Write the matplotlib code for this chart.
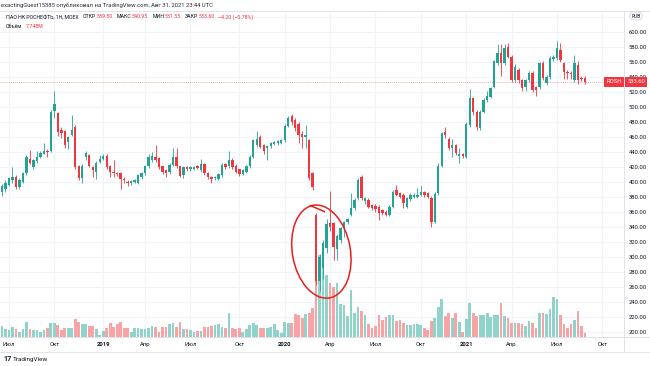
import numpy as np
import pandas as pd
import matplotlib
matplotlib.use('Agg')
import matplotlib.pyplot as plt
from matplotlib.patches import Ellipse
from matplotlib.lines import Line2D
from matplotlib.transforms import IdentityTransform, blended_transform_factory

plt.rcParams['font.family'] = ['Roboto', 'DejaVu Sans']

# weekly bars, ROSN (MOEX)
dates = pd.date_range('2018-06-18', periods=168, freq='W-MON')

opens = [386, 390, 396, 402, 407, 393, 400, 412, 431, 420,
         428, 434, 438, 442, 442, 495, 492, 469, 468, 454,
         463, 474, 421, 405, 434, 436, 420, 414, 427, 431,
         435, 421, 413, 412, 412, 404, 400, 398, 400, 399,
         406, 412, 421, 429, 434, 432, 421, 416, 414, 423,
         434, 421, 409, 420, 417, 418, 421, 416, 424, 412,
         407, 405, 404, 409, 424, 421, 430, 422, 417, 411,
         414, 421, 434, 449, 460, 449, 445, 448, 451, 452,
         452, 456, 475, 488, 483, 478, 464, 460, 456, 412,
         356, 268, 285, 312, 345, 345, 310, 322, 338, 346,
         356, 365, 378, 407, 374, 376, 369, 368, 367, 362.6,
         360, 356, 367, 389, 385, 383, 367, 377, 380, 380,
         383, 386, 385, 378, 347, 385, 422, 467, 458, 445,
         449, 435, 437, 434, 476, 512, 494, 472, 494, 509.5,
         514, 527, 558.5, 572.7, 558.5, 580, 567.4, 536.2, 549.6, 536.2,
         526.4, 536.2, 546, 526.4, 526.4, 558.5, 531.8, 540.7, 563.8, 565.2,
         577, 558.5, 547.4, 546, 536.2, 556.3, 538.5, 539.5]

highs = [397, 402, 407, 420, 409, 405, 414, 436, 443, 431,
         442, 441, 452, 444, 496, 522, 494, 474, 470, 461,
         489, 476, 423, 424, 442, 438, 421, 428, 436, 437,
         437, 423, 430, 414, 414, 406, 402, 403, 404, 411,
         414, 423, 438, 440, 449, 433, 422, 417, 425, 445,
         446, 422, 421, 422, 421, 422, 423, 431, 426, 414,
         408, 408, 412, 425, 426, 441, 432, 424, 418, 418,
         423, 436, 458, 468, 463, 451, 450, 453, 455, 456,
         458, 477, 488, 491, 485, 480, 468, 476, 458, 414,
         358, 304, 322, 350, 388, 347, 330, 340, 348, 352,
         385, 378, 405, 409, 380, 378, 371, 370, 369, 364,
         362, 369, 389, 396, 387, 385, 380, 385, 385, 392,
         395, 388, 387, 381, 386, 425, 467, 474, 460, 458,
         451, 445, 439, 480, 524, 514, 496, 496, 512, 522,
         527, 563, 584, 585, 585, 586, 570, 558, 552, 538,
         538, 548, 548, 528, 560, 561, 543, 568, 570, 589,
         586, 560, 550, 548, 570, 562, 542, 540.95]

lows = [381, 387, 394, 399, 390, 391, 398, 410, 424, 418,
        426, 432, 437, 433, 440, 486, 461, 459, 446, 444,
        461, 418, 402, 398, 430, 420, 406, 404, 425, 429,
        418, 406, 406, 408, 390, 399, 394, 396, 398, 397,
        404, 410, 419, 427, 427, 418, 411, 407, 411, 421,
        419, 406, 405, 415, 415, 416, 417, 414, 410, 404,
        398, 403, 402, 407, 418, 419, 418, 412, 408, 409,
        412, 419, 432, 447, 445, 438, 429, 446, 449, 450,
        451, 454, 473, 476, 468, 452, 446, 446, 403, 389,
        262, 254, 270, 305, 335, 296, 296, 318, 327, 344,
        354, 363, 376, 376, 371, 365, 362, 360, 349, 356,
        354, 354, 365, 381, 378, 365, 365, 375, 378, 379,
        381, 380, 378, 340, 345, 383, 420, 459, 443, 434,
        436, 425, 432, 432, 474, 490, 470, 470, 492, 507,
        512, 525, 556, 541, 556, 565, 534, 534, 532, 522,
        522, 534, 520, 515, 524, 536, 530, 538, 561, 563,
        560, 537, 538, 537, 534, 531, 535, 531.55]

closes = [394, 399, 405, 407, 393, 403, 412, 433, 426, 429,
          434, 439, 442, 440, 494, 504, 467, 466, 449, 460,
          469, 420, 405, 422, 439, 422, 416, 426, 431, 435,
          420, 413, 412, 411, 404, 402, 398, 401, 403, 409,
          412, 421, 433, 435, 429, 420, 414, 412, 423, 433,
          421, 408, 420, 417, 420, 420, 419, 424, 412, 406,
          404, 407, 411, 423, 420, 429, 420, 414, 411, 416,
          421, 434, 456, 457, 447, 441, 448, 452, 454, 455,
          456, 475, 486, 480, 472, 463, 460, 463, 405, 393,
          268, 300, 318, 344, 340, 313, 328, 338, 346, 350,
          365, 376, 403, 378, 378, 367, 365, 363.5, 359, 358,
          356, 367, 387, 383, 380, 371.5, 378, 383, 383, 383,
          386, 383, 380, 347, 384, 422, 465, 463, 445, 450,
          439, 438, 435, 478, 512, 494, 474, 494, 509.5, 515,
          525, 561, 572, 559.4, 578.5, 567.4, 536.2, 554, 536.2, 525,
          536.2, 546, 522.9, 522.9, 558.5, 538.5, 540.7, 565.2, 567.4, 578.5,
          563, 547.4, 545.1, 544.7, 558.5, 536.2, 537.8, 533.6]

# volume, millions of shares
volume_m = [19.8, 13.9, 12.6, 18, 13.9, 9.5, 14.9, 26.5, 14.9, 12.1,
            12.1, 9, 12.1, 16.7, 25.2, 25.2, 21.6, 12.6, 15.7, 15.7,
            16.7, 31.9, 27.5, 23.9, 22.9, 20.3, 20.3, 13.9, 4.1, 10.8,
            16.7, 25.7, 18, 23.9, 27, 15.7, 15.7, 9, 16.7, 16.7,
            14.4, 14.4, 16.7, 20.3, 18.5, 9.5, 18, 18.5, 22.9, 24.7,
            18.5, 27, 13.9, 13.9, 12.1, 9, 10.8, 10.8, 18.5, 18.5,
            19.8, 21.1, 22.9, 18.5, 16.7, 43.7, 16.2, 13.9, 16.2, 9.5,
            14.9, 21.6, 25.7, 21.6, 15.7, 16.7, 16.2, 18.5, 23.9, 13.1,
            7.7, 27, 25.2, 24.7, 40.9, 39.1, 33.7, 40.9, 43.7, 51.7,
            100.8, 147.6, 144, 111.6, 97.2, 90, 97.2, 58.9, 57.6, 37.8,
            84.6, 43.7, 54, 46.8, 39.6, 22.9, 16.7, 19.8, 39.6, 30.1,
            36, 39.6, 39.6, 28.8, 30.1, 24.7, 21.1, 21.1, 22.9, 22.9,
            21.1, 16.7, 12.1, 28.8, 33.7, 54, 67.9, 37.8, 42.7, 34.7,
            42.7, 27.5, 9.5, 31.9, 61.7, 43.7, 37.8, 39.6, 39.6, 43.7,
            36, 39.1, 39.1, 61.7, 37.8, 34.7, 25.7, 24.7, 25.7, 22.9,
            19.8, 28.8, 25.7, 16.7, 43.7, 43.7, 41.9, 49.9, 72, 67.9,
            39.1, 22.9, 16.7, 22.9, 30.1, 46.8, 19.8, 7.748]

assert len(opens) == len(highs) == len(lows) == len(closes) == len(volume_m) == len(dates)

UP, DOWN = '#22a393', '#f2363f'
UP_VOL, DOWN_VOL = '#8fd3cb', '#f8a4a7'
GRID = '#f0f3fa'
BORDER = '#e0e3eb'
TEXT = '#131722'

W, H = 650, 366
PLOT_R, PLOT_T, PLOT_B = 624, 12, 337   # pixel edges of the price pane


def fx(px):
    return px / W


def fy(py):
    return 1 - py / H


fig = plt.figure(figsize=(W / 100, H / 100), dpi=100)
rect = [0, fy(PLOT_B), PLOT_R / W, (PLOT_B - PLOT_T) / H]
axg = fig.add_axes(rect, label='grid')
axv = fig.add_axes(rect, label='volume')
ax = fig.add_axes(rect, label='price')

x = np.arange(len(opens))
o, h, l, c = map(np.array, (opens, highs, lows, closes))
up = c >= o
xlim = (-0.57, 178.2)
ylim = (192.9, 627.1)

# month ticks (first bar of Jan/Apr/Jul/Oct), the axis runs past the data
axis_dates = pd.date_range(dates[0], periods=185, freq='W-MON')
ru_month = {4: 'Апр', 7: 'Июл', 10: 'Окт'}
tick_pos, tick_lab = [], []
for i in range(1, len(axis_dates)):
    d = axis_dates[i]
    if d.month != axis_dates[i - 1].month and d.month in (1, 4, 7, 10) and i < xlim[1]:
        tick_pos.append(i)
        tick_lab.append(str(d.year) if d.month == 1 else ru_month[d.month])

# grid pane
axg.set_xlim(*xlim)
axg.set_ylim(*ylim)
for p in range(200, 621, 20):
    axg.axhline(p, color=GRID, lw=0.8)
for t in tick_pos:
    axg.axvline(t, color=GRID, lw=0.8)
axg.axis('off')

# volume pane
axv.bar(x, volume_m, width=0.78, color=np.where(up, UP_VOL, DOWN_VOL), linewidth=0)
axv.set_xlim(*xlim)
axv.set_ylim(0, (PLOT_B - PLOT_T) * 1.8)
axv.axis('off')

# candles
ax.patch.set_visible(False)
ax.vlines(x, l, h, color=np.where(up, UP, DOWN), lw=0.6)
body = np.maximum(np.abs(c - o), 0.8)
ax.bar(x, body, bottom=np.minimum(o, c), width=0.68, color=np.where(up, UP, DOWN), linewidth=0)
ax.axhline(c[-1], color=DOWN, lw=0.6, ls=(0, (1, 1.5)), alpha=0.6)
ax.set_xlim(*xlim)
ax.set_ylim(*ylim)

ax.yaxis.tick_right()
ax.set_yticks(range(200, 601, 20))
ax.set_yticklabels([f'{p:.2f}' for p in range(200, 601, 20)])
ax.tick_params(axis='y', length=0, pad=3.2, labelsize=4.2, labelcolor=TEXT)
ax.set_xticks(tick_pos)
ax.set_xticklabels(tick_lab)
for lab in ax.get_xticklabels():
    if lab.get_text().isdigit():
        lab.set_fontweight('bold')
ax.tick_params(axis='x', length=0, pad=3.4, labelsize=4.2, labelcolor=TEXT)
for s in ax.spines.values():
    s.set_visible(False)

# last price tags
tr = blended_transform_factory(ax.transAxes, ax.transData)
ax.text(1 + 3.5 / PLOT_R, c[-1], f'{c[-1]:.2f}', transform=tr, ha='left', va='center',
        fontsize=4.2, color='white', clip_on=False, zorder=5,
        bbox=dict(boxstyle='square,pad=0.35', fc=DOWN, ec='none'))
ax.text(1 - 2.5 / PLOT_R, c[-1], 'ROSH', transform=tr, ha='right', va='center',
        fontsize=4.2, color='white', clip_on=False, zorder=5,
        bbox=dict(boxstyle='square,pad=0.35', fc=DOWN, ec='none'))

# frame lines
fig.add_artist(Line2D([fx(PLOT_R), fx(PLOT_R)], [fy(PLOT_T - 1), fy(352)], color=BORDER, lw=0.7))
fig.add_artist(Line2D([0, 1], [fy(PLOT_B), fy(PLOT_B)], color=BORDER, lw=0.7))
fig.add_artist(Line2D([0, 1], [fy(352), fy(352)], color=BORDER, lw=0.7))
fig.add_artist(Line2D([0, 1], [fy(PLOT_T - 1), fy(PLOT_T - 1)], color=BORDER, lw=0.7))

fig.text(fx(636), fy(16), 'RUB', fontsize=3.6, color=TEXT, ha='center', va='center',
         bbox=dict(boxstyle='round,pad=0.3,rounding_size=0.8', fc='white', ec='#c9ccd3', lw=0.5))

# header and legend
fig.text(fx(1), fy(5.5), 'exactingGuest15385 опубликовал на TradingView.com, Авг 31, 2021 23:44 UTC',
         fontsize=4.2, color='#2a2e39', va='center')
chg = c[-1] - c[-2]
legend = [('ПАО НК РОСНЕФТЬ, 1Н, MOEX', TEXT, 4.5),
          ('ОТКР', TEXT, 0.6), (f'{o[-1]:.2f}', DOWN, 4),
          ('МАКС', TEXT, 0.6), (f'{h[-1]:.2f}', DOWN, 4),
          ('МИН', TEXT, 0.6), (f'{l[-1]:.2f}', DOWN, 4),
          ('ЗАКР', TEXT, 0.6), (f'{c[-1]:.2f}', DOWN, 3),
          (f'{chg:+.2f} ({chg / c[-2] * 100:+.2f}%)'.replace('-', '−'), DOWN, 0)]
renderer = fig.canvas.get_renderer()
xpos = 5.5
for s, col, gap in legend:
    t = fig.text(fx(xpos), fy(17), s, fontsize=3.8, color=col, va='center')
    xpos = t.get_window_extent(renderer).x1 + gap
t = fig.text(fx(5.5), fy(27), 'Объём', fontsize=3.8, color=TEXT, va='center')
fig.text(fx(t.get_window_extent(renderer).x1 + 4), fy(27), f'{volume_m[-1]:.3f}M',
         fontsize=3.8, color=DOWN, va='center')

# hand-drawn circle round the March 2020 crash
cx, cy = ax.transData.transform((91.5, 307))
fig.add_artist(Ellipse((cx, cy), 58, 94, angle=10, transform=IdentityTransform(),
                       fill=False, ec='#e8201c', lw=1.1))
fig.add_artist(Line2D([cx - 11, cx + 3], [cy + 46, cy + 40], transform=IdentityTransform(),
                      color='#e8201c', lw=1.1))

# footer logo
fig.text(fx(3), fy(359), '17', fontsize=5.2, fontweight='bold', color=TEXT, va='center')
fig.text(fx(12.5), fy(359), 'TradingView', fontsize=4.6, color=TEXT, va='center')

fig.savefig('out.png', dpi=100, facecolor='white')
